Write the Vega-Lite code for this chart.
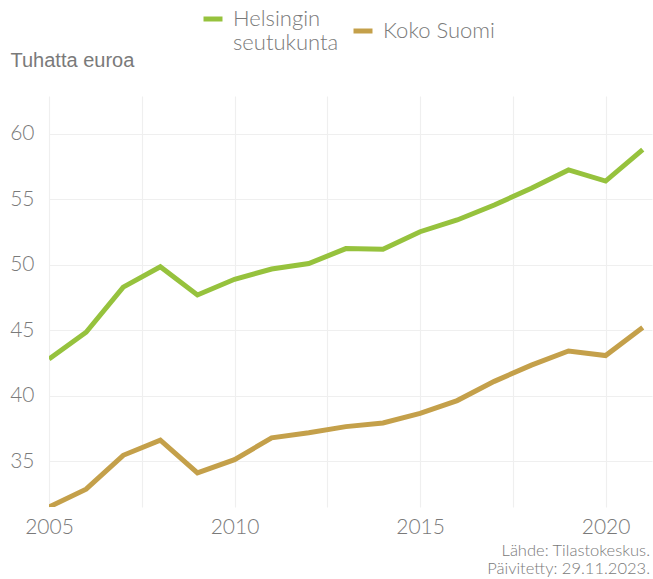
{
  "$schema": "https://vega.github.io/schema/vega-lite/v6.json",
  "autosize": {"type": "none"},
  "padding": {"left": 49, "top": 96, "right": 1, "bottom": 72},
  "width": 603,
  "height": 411,
  "background": "white",
  "title": {
    "text": ["Lähde: Tilastokeskus.", "Päivitetty: 29.11.2023."],
    "orient": "bottom",
    "anchor": "end",
    "align": "right",
    "baseline": "top",
    "dx": -2,
    "offset": 6,
    "font": "Lato",
    "fontSize": 16.5,
    "fontWeight": 300,
    "lineHeight": 18,
    "color": "#7a7a7a"
  },
  "data": {
    "values": [
      {"vuosi": 2005, "alue": "Helsingin seutukunta", "arvo": 42.8},
      {"vuosi": 2006, "alue": "Helsingin seutukunta", "arvo": 44.85},
      {"vuosi": 2007, "alue": "Helsingin seutukunta", "arvo": 48.3},
      {"vuosi": 2008, "alue": "Helsingin seutukunta", "arvo": 49.85},
      {"vuosi": 2009, "alue": "Helsingin seutukunta", "arvo": 47.7},
      {"vuosi": 2010, "alue": "Helsingin seutukunta", "arvo": 48.9},
      {"vuosi": 2011, "alue": "Helsingin seutukunta", "arvo": 49.68},
      {"vuosi": 2012, "alue": "Helsingin seutukunta", "arvo": 50.1},
      {"vuosi": 2013, "alue": "Helsingin seutukunta", "arvo": 51.24},
      {"vuosi": 2014, "alue": "Helsingin seutukunta", "arvo": 51.2},
      {"vuosi": 2015, "alue": "Helsingin seutukunta", "arvo": 52.53},
      {"vuosi": 2016, "alue": "Helsingin seutukunta", "arvo": 53.43},
      {"vuosi": 2017, "alue": "Helsingin seutukunta", "arvo": 54.57},
      {"vuosi": 2018, "alue": "Helsingin seutukunta", "arvo": 55.85},
      {"vuosi": 2019, "alue": "Helsingin seutukunta", "arvo": 57.25},
      {"vuosi": 2020, "alue": "Helsingin seutukunta", "arvo": 56.4},
      {"vuosi": 2021, "alue": "Helsingin seutukunta", "arvo": 58.8},
      {"vuosi": 2005, "alue": "Koko Suomi", "arvo": 31.5},
      {"vuosi": 2006, "alue": "Koko Suomi", "arvo": 32.86},
      {"vuosi": 2007, "alue": "Koko Suomi", "arvo": 35.45},
      {"vuosi": 2008, "alue": "Koko Suomi", "arvo": 36.6},
      {"vuosi": 2009, "alue": "Koko Suomi", "arvo": 34.1},
      {"vuosi": 2010, "alue": "Koko Suomi", "arvo": 35.12},
      {"vuosi": 2011, "alue": "Koko Suomi", "arvo": 36.78},
      {"vuosi": 2012, "alue": "Koko Suomi", "arvo": 37.17},
      {"vuosi": 2013, "alue": "Koko Suomi", "arvo": 37.64},
      {"vuosi": 2014, "alue": "Koko Suomi", "arvo": 37.92},
      {"vuosi": 2015, "alue": "Koko Suomi", "arvo": 38.65},
      {"vuosi": 2016, "alue": "Koko Suomi", "arvo": 39.63},
      {"vuosi": 2017, "alue": "Koko Suomi", "arvo": 41.1},
      {"vuosi": 2018, "alue": "Koko Suomi", "arvo": 42.34},
      {"vuosi": 2019, "alue": "Koko Suomi", "arvo": 43.42},
      {"vuosi": 2020, "alue": "Koko Suomi", "arvo": 43.07},
      {"vuosi": 2021, "alue": "Koko Suomi", "arvo": 45.22}
    ]
  },
  "mark": {"type": "line", "strokeWidth": 5, "clip": true, "strokeCap": "butt", "strokeJoin": "miter"},
  "encoding": {
    "x": {
      "field": "vuosi",
      "type": "quantitative",
      "scale": {"domain": [2005, 2021.25], "nice": false, "zero": false},
      "axis": {
        "title": null,
        "values": [2005, 2007.5, 2010, 2012.5, 2015, 2017.5, 2020],
        "labelExpr": "datum.value % 5 == 0 ? format(datum.value, 'd') : ''",
        "domain": false,
        "ticks": false,
        "grid": true,
        "gridColor": "#efefef",
        "gridWidth": 1.2,
        "labelFont": "Lato",
        "labelFontSize": 21,
        "labelFontWeight": 300,
        "labelColor": "#7a7a7a",
        "labelPadding": 9,
        "labelBaseline": "top",
        "labelFlush": false,
        "labelOverlap": false
      }
    },
    "y": {
      "field": "arvo",
      "type": "quantitative",
      "scale": {"domain": [31.5, 62.9], "nice": false, "zero": false},
      "axis": {
        "title": "Tuhatta euroa",
        "titleAngle": 0,
        "titleAlign": "left",
        "titleBaseline": "alphabetic",
        "titleX": -39,
        "titleY": -30,
        "titleFont": "Liberation Sans",
        "titleFontSize": 20,
        "titleFontWeight": "normal",
        "titleColor": "#7a7a7a",
        "values": [35, 40, 45, 50, 55, 60],
        "domain": false,
        "ticks": false,
        "grid": true,
        "gridColor": "#efefef",
        "gridWidth": 1.2,
        "labelFont": "Lato",
        "labelFontSize": 21,
        "labelFontWeight": 300,
        "labelColor": "#7a7a7a",
        "labelPadding": 15,
        "labelFlush": false
      }
    },
    "color": {
      "field": "alue",
      "type": "nominal",
      "scale": {"domain": ["Helsingin seutukunta", "Koko Suomi"], "range": ["#96c23d", "#c4a04a"]},
      "legend": {
        "title": null,
        "orient": "none",
        "direction": "horizontal",
        "legendX": 152,
        "legendY": -89,
        "symbolType": "stroke",
        "symbolSize": 361,
        "symbolStrokeWidth": 5,
        "labelFont": "Lato",
        "labelFontSize": 22,
        "labelFontWeight": 300,
        "labelColor": "#7a7a7a",
        "labelOffset": 8,
        "columnPadding": 4,
        "labelLimit": 300,
        "labelExpr": "datum.label == 'Helsingin seutukunta' ? ['Helsingin', 'seutukunta'] : datum.label"
      }
    }
  },
  "config": {
    "view": {"stroke": null}
  }
}
